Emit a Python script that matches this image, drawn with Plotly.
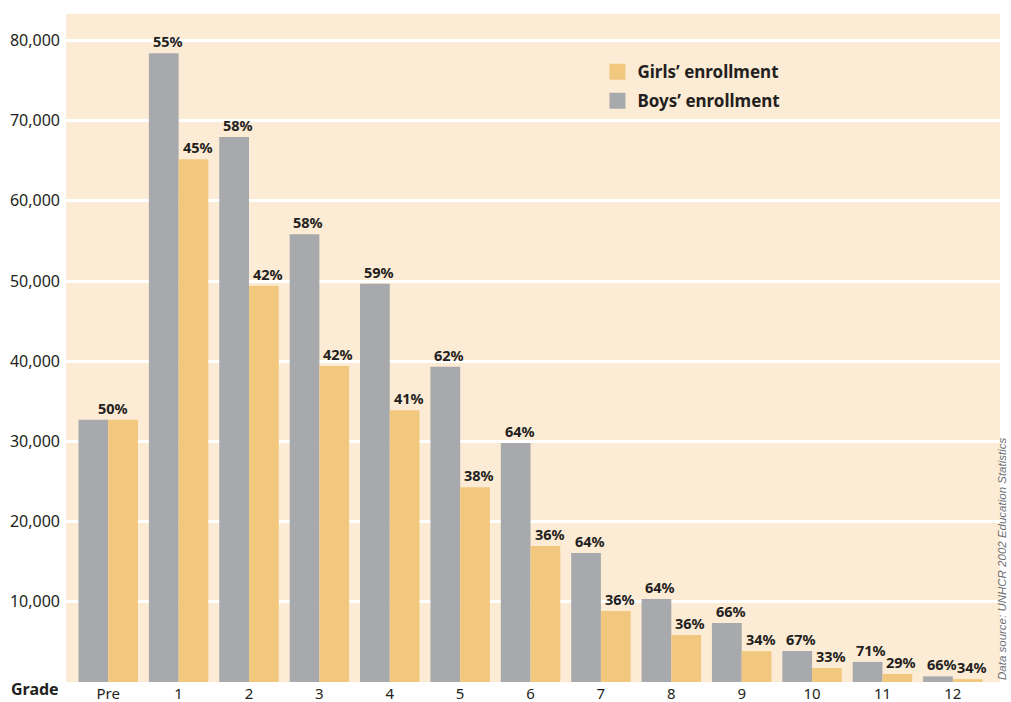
import plotly.graph_objects as go

grades = ["Pre", "1", "2", "3", "4", "5", "6", "7", "8", "9", "10", "11", "12"]
boys = [32700, 78400, 67950, 55850, 49650, 39300, 29800, 16100, 10350, 7350, 3870, 2500, 700]
girls = [32700, 65200, 49400, 39400, 33900, 24300, 16950, 8850, 5850, 3850, 1750, 1000, 360]
boys_pct = ["", "55%", "58%", "58%", "59%", "62%", "64%", "64%", "64%", "66%", "67%", "71%", "66%"]
girls_pct = ["", "45%", "42%", "42%", "41%", "38%", "36%", "36%", "36%", "34%", "33%", "29%", "34%"]
pre_pct = "50%"

y_ticks = [10000, 20000, 30000, 40000, 50000, 60000, 70000, 80000]
y_ticktext = ["10,000", "20,000", "30,000", "40,000", "50,000", "60,000", "70,000", "80,000"]

GRAY = "#A7A9AC"
ORANGE = "#F2C87E"
BG = "#FCEBD5"
TXT = "#231F20"
FONT = "Noto Sans"
PCT_SIZE = 14.5

fig = go.Figure()
fig.add_trace(go.Bar(x=grades, y=boys, name="Boys’ enrollment", marker_color=GRAY,
                     marker_line_width=0, showlegend=False))
fig.add_trace(go.Bar(x=grades, y=girls, name="Girls’ enrollment", marker_color=ORANGE,
                     marker_line_width=0, showlegend=False))
# legend proxies
fig.add_trace(go.Scatter(x=[None], y=[None], mode="markers", name="Girls’ enrollment",
                         legendgroup="g", legendrank=1,
                         marker=dict(symbol="square", size=17, color=ORANGE)))
fig.add_trace(go.Scatter(x=[None], y=[None], mode="markers", name="Boys’ enrollment",
                         legendgroup="b", legendrank=2,
                         marker=dict(symbol="square", size=17, color=GRAY)))

ann = []
for g, b, gv, bp, gp in zip(grades, boys, girls, boys_pct, girls_pct):
    if bp:
        ann.append(dict(x=g, y=b, text=f"<b>{bp}</b>", showarrow=False, xref="x", yref="y",
                        yanchor="bottom", xshift=-11, yshift=0,
                        font=dict(family=FONT, size=PCT_SIZE, color=TXT)))
    if gp:
        ann.append(dict(x=g, y=gv, text=f"<b>{gp}</b>", showarrow=False, xref="x", yref="y",
                        yanchor="bottom", xshift=19, yshift=0,
                        font=dict(family=FONT, size=PCT_SIZE, color=TXT)))
ann.append(dict(x=grades[0], y=max(boys[0], girls[0]), text=f"<b>{pre_pct}</b>", showarrow=False,
                xref="x", yref="y", yanchor="bottom", xshift=5, yshift=0,
                font=dict(family=FONT, size=PCT_SIZE, color=TXT)))
ann.append(dict(x=-0.005, y=0, xref="paper", yref="paper", xanchor="right", yanchor="bottom",
                yshift=-20, text="<b>Grade</b>", showarrow=False,
                font=dict(family=FONT, size=16, color=TXT)))
ann.append(dict(x=1.0107, y=0.0, xref="paper", yref="paper", xanchor="right", yanchor="bottom",
                textangle=-90, text="<i>Data source: UNHCR 2002 Education Statistics</i>",
                showarrow=False, font=dict(family="Liberation Sans Narrow, Liberation Sans", size=11.5, color="#6D6E71")))

fig.update_layout(
    width=1011, height=702,
    template="none",
    barmode="group", bargap=0.155, bargroupgap=0,
    plot_bgcolor=BG, paper_bgcolor="white",
    margin=dict(l=66, r=11, t=14, b=20),
    font=dict(family=FONT, size=14, color=TXT),
    legend=dict(x=0.569, y=0.94, xanchor="left", yanchor="top", bgcolor="rgba(0,0,0,0)",
                font=dict(family=FONT, size=17, color=TXT, weight="bold"), tracegroupgap=4,
                traceorder="grouped", itemclick=False),
    xaxis=dict(type="category", range=[-0.6, 12.67], showgrid=False, zeroline=False, showline=False,
               ticks="", tickfont=dict(family=FONT, size=15, color=TXT), automargin=False,
               ticklabelstandoff=1),
    yaxis=dict(range=[0, 83300], tickvals=y_ticks, ticktext=y_ticktext, showgrid=True,
               gridcolor="white", gridwidth=2.5, zeroline=False, showline=False, ticks="",
               tickfont=dict(family=FONT, size=16, color=TXT), automargin=False,
               ticklabelstandoff=5),
    annotations=ann,
)
fig.write_html("out.html", config={"displayModeBar": False},
               post_script="document.body.style.margin='0';")
